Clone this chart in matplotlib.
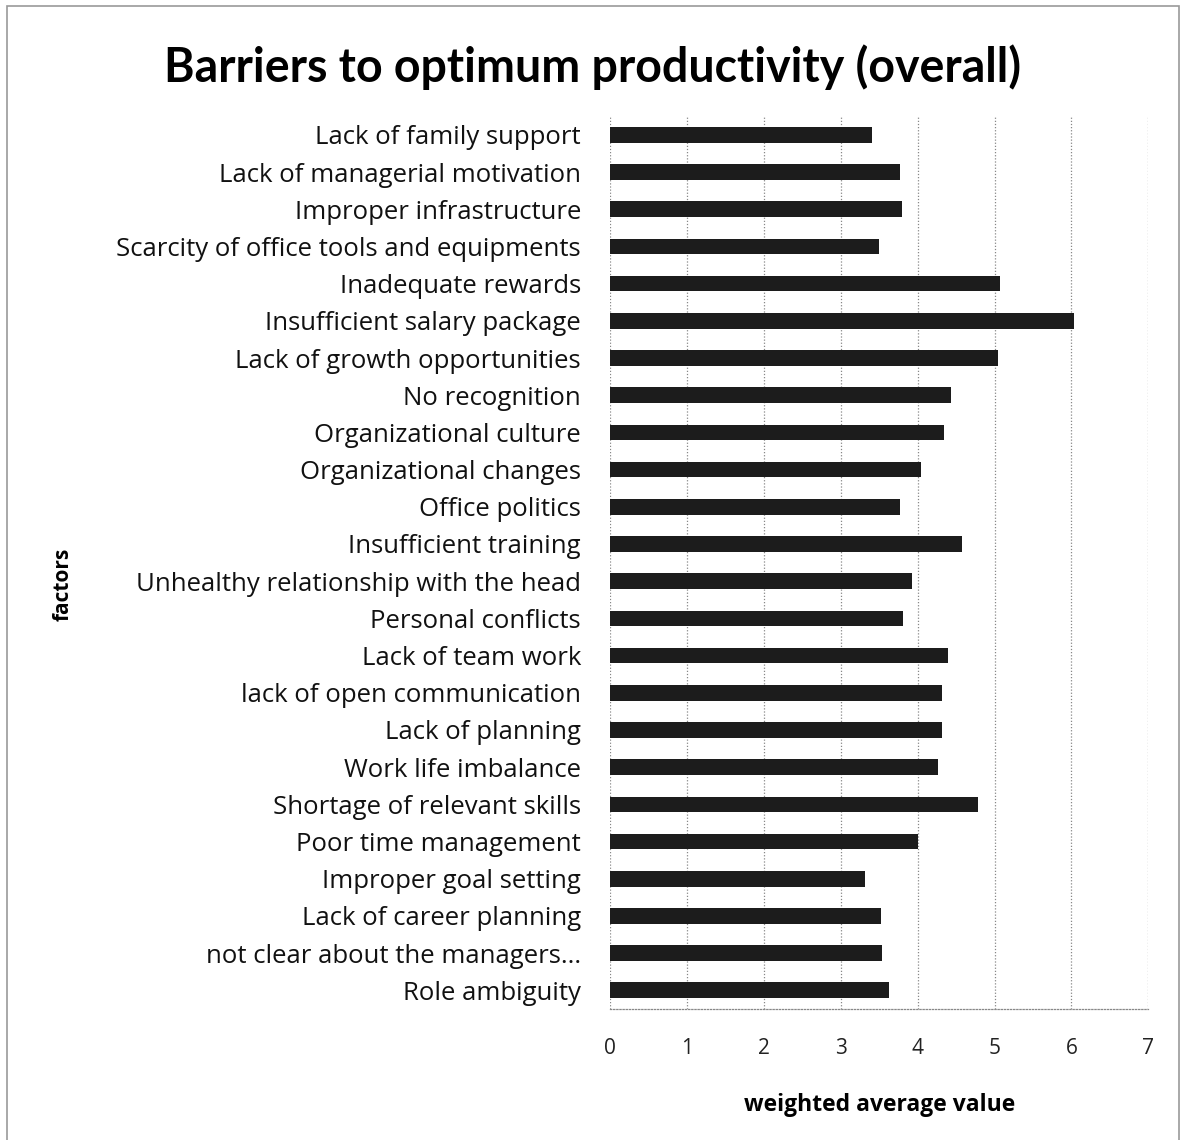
import matplotlib
matplotlib.use("Agg")
import matplotlib.pyplot as plt
from matplotlib.patches import Rectangle

categories = [
    "Lack of family support",
    "Lack of managerial motivation",
    "Improper infrastructure",
    "Scarcity of office tools and equipments",
    "Inadequate rewards",
    "Insufficient salary package",
    "Lack of growth opportunities",
    "No recognition",
    "Organizational culture",
    "Organizational changes",
    "Office politics",
    "Insufficient training",
    "Unhealthy relationship with the head",
    "Personal conflicts",
    "Lack of team work",
    "lack of open communication",
    "Lack of planning",
    "Work life imbalance",
    "Shortage of relevant skills",
    "Poor time management",
    "Improper goal setting",
    "Lack of career planning",
    "not clear about the managers...",
    "Role ambiguity",
]
values = [3.41, 3.77, 3.80, 3.50, 5.07, 6.03, 5.05, 4.43, 4.34, 4.04, 3.77, 4.58,
          3.93, 3.81, 4.40, 4.32, 4.31, 4.26, 4.78, 4.01, 3.32, 3.52, 3.53, 3.63]
xticks = [0, 1, 2, 3, 4, 5, 6, 7]

plt.rcParams['font.family'] = ['Open Sans', 'DejaVu Sans']

fig = plt.figure(figsize=(11.85, 11.4), dpi=100)
ax = fig.add_axes([0.515, 0.115, 0.454, 0.783])

y = list(range(len(categories)))
ax.barh(y, values, height=0.42, color='#1c1c1c', zorder=3)
ax.set_ylim(len(categories) - 0.5, -0.5)
ax.set_xlim(0, 7)
ax.set_xticks(xticks)
ax.set_xticklabels([str(t) for t in xticks], fontsize=15, color='#222222')
ax.set_yticks(y)
ax.set_yticklabels(categories, fontsize=18.5, color='#111111')
ax.tick_params(axis='x', length=0, pad=21)
ax.tick_params(axis='y', length=0, pad=21)

ax.grid(axis='x', color='#888888', linestyle=(0, (1, 1.5)), linewidth=0.9, zorder=0)
for side in ['top', 'left', 'right']:
    ax.spines[side].set_visible(False)
ax.spines['bottom'].set_color('#888888')
ax.spines['bottom'].set_linestyle((0, (1, 1.5)))
ax.spines['bottom'].set_linewidth(0.9)

ax.set_xlabel('weighted average value', fontsize=16.5, fontweight='bold')
ax.xaxis.set_label_coords(0.5, -0.094)

fig.text(0.053, 0.487, 'factors', rotation=90, fontsize=15, fontweight='bold',
         ha='center', va='center')
fig.text(0.5, 0.941, 'Barriers to optimum productivity (overall)', fontsize=33.5,
         fontweight='bold', ha='center', va='center', family=['Lato', 'DejaVu Sans'])

fig.add_artist(Rectangle((0.006, -0.01), 0.989, 1.005, transform=fig.transFigure,
                         fill=False, edgecolor='#999999', linewidth=1.2))

fig.savefig('out.png', dpi=100)
